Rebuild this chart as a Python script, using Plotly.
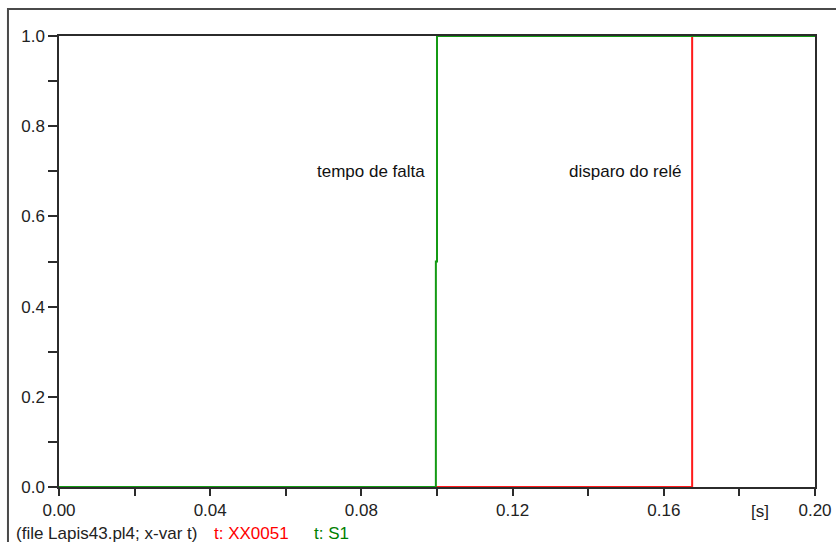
import plotly.graph_objects as go

# Time axis samples [s] and signal levels
t_s1 = [0.0, 0.0997, 0.0997, 0.1, 0.1, 0.2]
s1 = [0.0, 0.0, 0.5, 0.5, 1.0, 1.0]

t_xx0051 = [0.0, 0.1675, 0.1675, 0.2]
xx0051 = [0.0, 0.0, 1.0, 1.0]

x_ticks = [0.00, 0.04, 0.08, 0.12, 0.16, 0.20]
x_ticktext = ["0.00", "0.04", "0.08", "0.12", "0.16", "0.20"]
y_ticks = [0.0, 0.2, 0.4, 0.6, 0.8, 1.0]
y_ticktext = ["0.0", "0.2", "0.4", "0.6", "0.8", "1.0"]

RED = "#ff1a1a"
GREEN = "#149a14"
AXIS = "#2b2b2b"
FONT = "Liberation Sans, Arial, sans-serif"
FS = 17

fig = go.Figure()
fig.add_trace(go.Scatter(x=t_xx0051, y=xx0051, mode="lines",
                         line=dict(color=RED, width=2), showlegend=False))
fig.add_trace(go.Scatter(x=t_s1, y=s1, mode="lines",
                         line=dict(color=GREEN, width=2), showlegend=False))

fig.update_layout(
    width=836, height=542,
    margin=dict(l=59, r=21, t=36, b=55, autoexpand=False),
    paper_bgcolor="white", plot_bgcolor="white",
    font=dict(family=FONT, size=FS, color="#222"),
    showlegend=False,
)

fig.update_xaxes(
    range=[0, 0.2], tickvals=x_ticks, ticktext=x_ticktext,
    showgrid=False, zeroline=False, automargin=False,
    showline=True, mirror=True, linecolor=AXIS, linewidth=1.5,
    ticks="outside", ticklen=7, tickwidth=1.5, tickcolor=AXIS,
    minor=dict(dtick=0.02, tick0=0, ticks="outside", ticklen=7,
               tickwidth=1.5, tickcolor=AXIS, showgrid=False),
    layer="below traces",
    tickfont=dict(family=FONT, size=FS, color="#222"),
)
fig.update_yaxes(
    range=[0, 1], tickvals=y_ticks, ticktext=y_ticktext,
    showgrid=False, zeroline=False, automargin=False,
    showline=True, mirror=True, linecolor=AXIS, linewidth=1.5,
    ticks="outside", ticklen=9, tickwidth=1.5, tickcolor=AXIS,
    minor=dict(dtick=0.1, tick0=0, ticks="outside", ticklen=9,
               tickwidth=1.5, tickcolor=AXIS, showgrid=False),
    layer="below traces",
    tickfont=dict(family=FONT, size=FS, color="#222"),
)

# Outer window frame
fig.add_shape(type="rect", xref="paper", yref="paper",
              x0=-0.0675, x1=1.2, y0=-0.3, y1=1.06,
              line=dict(color="#4a4a4a", width=2), layer="below")

# Event labels
fig.add_annotation(x=0.0974, y=0.70, xref="x", yref="y", text="tempo de falta",
                   showarrow=False, xanchor="right", yanchor="middle",
                   font=dict(family=FONT, size=FS, color="#111"))
fig.add_annotation(x=0.1651, y=0.70, xref="x", yref="y", text="disparo do relé",
                   showarrow=False, xanchor="right", yanchor="middle",
                   font=dict(family=FONT, size=FS, color="#111"))

# Unit label on the time axis
fig.add_annotation(x=0.927, y=-0.0554, xref="paper", yref="paper", text="[s]",
                   showarrow=False, xanchor="center", yanchor="middle",
                   font=dict(family=FONT, size=FS, color="#222"))

# Footer: file info and variable names
fig.add_annotation(x=-0.0595, y=-0.104, xref="paper", yref="paper",
                   text="(file Lapis43.pl4; x-var t)", showarrow=False,
                   xanchor="left", yanchor="middle",
                   font=dict(family=FONT, size=FS, color="#222"))
fig.add_annotation(x=0.2024, y=-0.104, xref="paper", yref="paper",
                   text="t: XX0051", showarrow=False,
                   xanchor="left", yanchor="middle",
                   font=dict(family=FONT, size=FS, color="#ff0000"))
fig.add_annotation(x=0.3347, y=-0.104, xref="paper", yref="paper",
                   text="t: S1", showarrow=False,
                   xanchor="left", yanchor="middle",
                   font=dict(family=FONT, size=FS, color="#008000"))

fig.write_html("out.html")
